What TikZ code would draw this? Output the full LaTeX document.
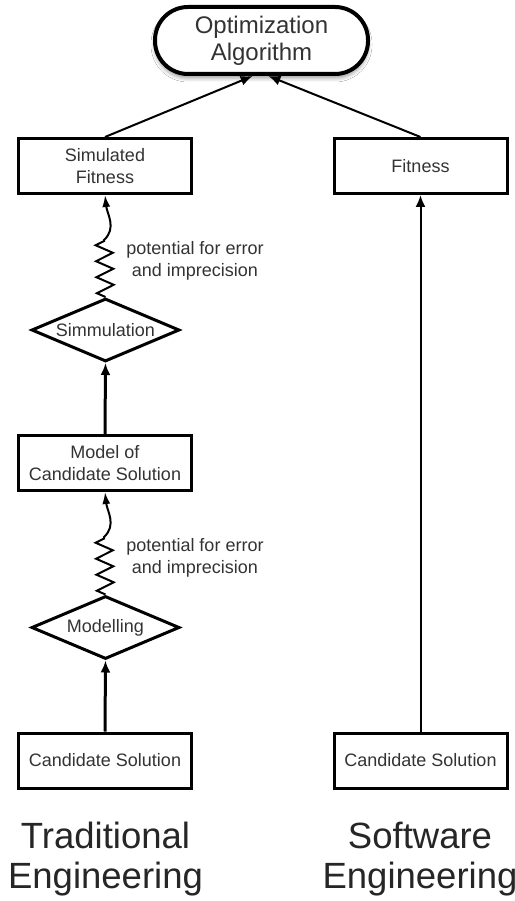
\documentclass[tikz,border=0pt]{standalone}
\usepackage{fontspec}
\setmainfont{Liberation Sans}
\usetikzlibrary{shapes.geometric,arrows.meta,decorations.pathmorphing,shadows.blur}
\begin{document}
\begin{tikzpicture}[x=1pt,y=-1pt,
  box/.style={draw, line width=3pt, minimum width=173pt, minimum height=55pt, inner sep=0pt, align=center, font=\fontsize{18}{22}\selectfont, text=black!80},
  dia/.style={diamond, draw, line width=3pt, minimum width=148pt, minimum height=63pt, inner sep=0pt, shape aspect=2.4, font=\fontsize{18}{22}\selectfont, text=black!80},
  opt/.style={draw, line width=4pt, rounded corners=33pt, minimum width=213pt, minimum height=67pt, inner sep=0pt, fill=white, blur shadow={shadow xshift=0pt, shadow yshift=-4pt, shadow blur radius=4pt}, align=center, font=\fontsize{24}{27}\selectfont, text=black!80},
  note/.style={align=center, font=\fontsize{18}{22}\selectfont, text=black!80, inner sep=0pt},
  big/.style={font=\fontsize{36.5}{40}\selectfont, text=black!85, inner sep=0pt, align=center},
  thinarrow/.style={line width=2pt, -{Latex[length=12pt,width=10pt]}},
  thickarrow/.style={line width=3pt, -{Latex[length=12pt,width=10pt]}},
  snakearrow/.style={line width=2pt, -{Latex[length=12pt,width=8pt]}},
  zz/.style={decoration={zigzag, segment length=16pt, amplitude=8.5pt}}
]
\useasboundingbox (0,0) rectangle (514,901);
\fill[white] (0,0) rectangle (514,901);

\node[opt] (opt) at (261.5,40.5) {Optimization\\Algorithm};

\node[box] (sf) at (105,166) {Simulated\\Fitness};
\node[box] (fit) at (420.5,166) {Fitness};
\node[dia] (sim) at (105.5,330) {Simmulation};
\node[box] (model) at (105,463) {Model of\\Candidate Solution};
\node[dia] (modl) at (105.5,627.5) {Modelling};
\node[box] (cs1) at (105,760.5) {Candidate Solution};
\node[box] (cs2) at (420.5,760.5) {Candidate Solution};

\node[note] (n1) at (195,261) {potential for error\\and imprecision};
\node[note] (n2) at (195,558) {potential for error\\and imprecision};

\node[big, anchor=base] (tl) at (105.5,888) {Traditional\\Engineering};
\node[big, anchor=base] (sl) at (420,888) {Software\\Engineering};

\draw[thinarrow] (sf.north) -- (opt.256);
\draw[thinarrow] (fit.north) -- (opt.281);
\draw[thinarrow] (cs2.north) -- (fit.south);
\draw[thickarrow] (model.north) -- (sim.south);
\draw[thickarrow] (cs1.north) -- (modl.south);

\coordinate (z1) at (104,240);
\coordinate (z2) at (104,537);
\draw[snakearrow] (sim.north) decorate[zz] {-- (z1)} .. controls (117,228) and (107,214) .. (sf.south);
\draw[snakearrow] (modl.north) decorate[zz] {-- (z2)} .. controls (117,525) and (107,511) .. (model.south);
\end{tikzpicture}
\end{document}
